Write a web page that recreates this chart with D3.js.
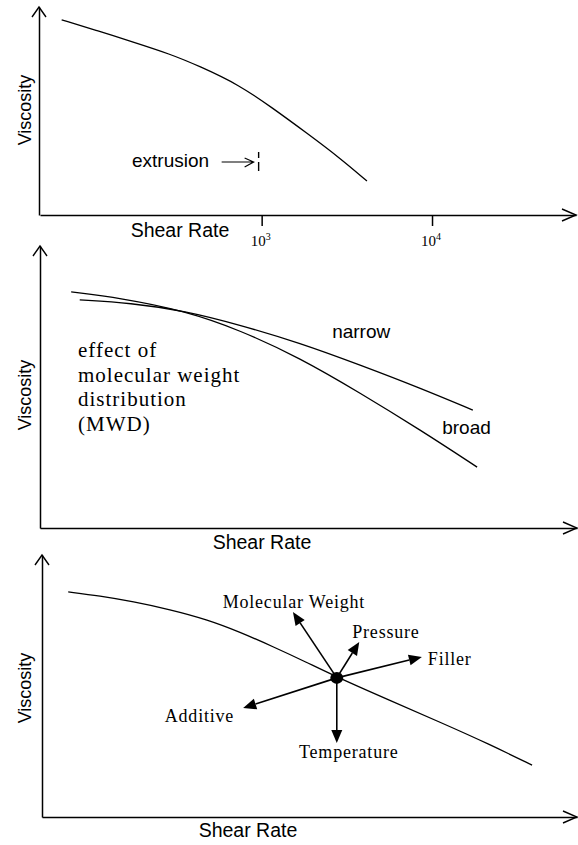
<!DOCTYPE html>
<html>
<head>
<meta charset="utf-8">
<script src="https://cdn.jsdelivr.net/npm/d3@7"></script>
<style>
  body { margin: 0; background: #fff; }
  svg { display: block; }
</style>
</head>
<body>
<svg id="chart"></svg>
<script>
const width = 578;
const height = 845;
const sans = '"Liberation Sans", Arial, sans-serif';
const serif = '"Liberation Serif", "Times New Roman", serif';

// panel 1: viscosity vs shear rate (log shear axis)
const shearRate1 = [67, 110, 175, 290, 430, 740, 1160, 1840, 2880, 4150];
const viscosity1 = [9.38, 8.85, 8.32, 7.74, 7.16, 6.25, 5.14, 3.94, 2.74, 1.63];
const tickRates1 = [1e3, 1e4];
const tickExponents1 = ["3", "4"];
const extrusionRate = 960;

// panel 2: effect of MWD
const shearNarrow = [0.74, 1.68, 2.70, 3.72, 4.84, 5.96, 7.08, 8.06];
const viscNarrow = [8.09, 7.98, 7.70, 7.20, 6.56, 5.78, 4.96, 4.18];
const shearBroad = [0.58, 1.49, 2.70, 3.72, 4.84, 5.96, 7.08, 8.14];
const viscBroad = [8.37, 8.16, 7.70, 7.02, 6.03, 4.79, 3.48, 2.16];
const mwdText = ["effect of", "molecular weight", "distribution", "(MWD)"];

// panel 3: factors acting on viscosity
const shear3 = [0.49, 1.08, 1.70, 2.39, 3.08, 3.70, 4.32, 4.92, 5.51, 6.50, 7.44, 8.37, 9.16];
const visc3 = [8.59, 8.44, 8.22, 7.92, 7.54, 7.06, 6.50, 5.93, 5.34, 4.45, 3.62, 2.77, 1.98];
const pointShear = 5.51;
const pointVisc = 5.31;
const factorNames = ["Molecular Weight", "Pressure", "Filler", "Additive", "Temperature"];
const factorShear = [4.69, 5.93, 7.10, 3.76, 5.51];
const factorVisc = [7.82, 6.68, 6.11, 4.16, 2.82];

const svg = d3.select("#chart")
    .attr("width", width)
    .attr("height", height)
    .attr("viewBox", [0, 0, width, height]);

svg.append("rect").attr("width", width).attr("height", height).attr("fill", "#fff");

// 画坐标轴（带开口箭头）
function drawAxes(x, y, left, right, bottom, top) {
    svg.append("g")
        .attr("transform", `translate(0,${bottom})`)
        .call(d3.axisBottom(x).tickValues([]).tickSizeOuter(0))
        .call(g => g.select(".domain").attr("stroke", "#000").attr("stroke-width", 1.5));
    svg.append("g")
        .attr("transform", `translate(${left},0)`)
        .call(d3.axisLeft(y).tickValues([]).tickSizeOuter(0))
        .call(g => g.select(".domain").attr("stroke", "#000").attr("stroke-width", 1.5));

    svg.append("path")   // x 箭头
        .attr("d", `M${right - 14},${bottom - 6}L${right},${bottom}L${right - 14},${bottom + 6}`)
        .attr("fill", "none").attr("stroke", "#000").attr("stroke-width", 1.4);
    svg.append("path")   // y 箭头
        .attr("d", `M${left - 7},${top + 10}L${left},${top}L${left + 7},${top + 10}`)
        .attr("fill", "none").attr("stroke", "#000").attr("stroke-width", 1.4);
}

function axisLabels(xCenter, xBaseline, yCenter) {
    svg.append("text")
        .attr("x", xCenter).attr("y", xBaseline)
        .attr("text-anchor", "middle")
        .attr("font-family", sans).attr("font-size", 19.5)
        .text("Shear Rate");
    svg.append("text")
        .attr("transform", `translate(31,${yCenter}) rotate(-90)`)
        .attr("text-anchor", "middle")
        .attr("font-family", sans).attr("font-size", 18)
        .text("Viscosity");
}

function drawCurve(xs, ys, x, y) {
    svg.append("path")
        .datum(xs.map((d, i) => [x(d), y(ys[i])]))
        .attr("fill", "none")
        .attr("stroke", "#000")
        .attr("stroke-width", 1.3)
        .attr("d", d3.line().curve(d3.curveBasis));
}

// ---------- panel 1 ----------
{
    const left = 39, right = 576, bottom = 215, top = 7;
    const x = d3.scaleLog().domain([50, 70000]).range([40, right]);
    const y = d3.scaleLinear().domain([0, 10]).range([bottom, top]);
    drawAxes(x, y, left, right, bottom, top);

    // 刻度 10^3, 10^4
    svg.append("g")
        .attr("transform", `translate(0,${bottom})`)
        .call(d3.axisBottom(x).tickValues(tickRates1).tickSize(11).tickFormat(""))
        .call(g => g.select(".domain").remove())
        .call(g => g.selectAll(".tick line").attr("stroke", "#000").attr("stroke-width", 1.5));
    const lbl = svg.selectAll(".tick-lbl")
        .data(tickRates1)
        .join("text")
        .attr("class", "tick-lbl")
        .attr("x", d => x(d) - 1)
        .attr("y", bottom + 31)
        .attr("text-anchor", "middle")
        .attr("font-family", serif)
        .attr("font-size", 15);
    lbl.append("tspan").text("10");
    lbl.append("tspan")
        .attr("dy", -6)
        .attr("font-size", 10)
        .text((d, i) => tickExponents1[i]);

    drawCurve(shearRate1, viscosity1, x, y);
    axisLabels(180, 237, 110);

    // extrusion 标注
    svg.append("text")
        .attr("x", 132).attr("y", 167)
        .attr("font-family", sans).attr("font-size", 19)
        .text("extrusion");
    const ex = x(extrusionRate);
    svg.append("path")
        .attr("d", `M${ex - 37},162H${ex - 5}M${ex - 14},158L${ex - 5},162L${ex - 14},167`)
        .attr("fill", "none").attr("stroke", "#000").attr("stroke-width", 1.2);
    svg.append("line")
        .attr("x1", ex).attr("x2", ex)
        .attr("y1", 152).attr("y2", 171)
        .attr("stroke", "#000").attr("stroke-width", 1.4)
        .attr("stroke-dasharray", "6,4,9");
}

// ---------- panel 2 ----------
{
    const left = 40, right = 577, bottom = 528, top = 246;
    const x = d3.scaleLinear().domain([0, 10]).range([left, right]);
    const y = d3.scaleLinear().domain([0, 10]).range([bottom, top]);
    drawAxes(x, y, left, right, bottom, top);
    drawCurve(shearNarrow, viscNarrow, x, y);
    drawCurve(shearBroad, viscBroad, x, y);
    axisLabels(262, 549, 395);

    svg.append("text")
        .attr("x", x(5.44)).attr("y", y(6.74))
        .attr("font-family", sans).attr("font-size", 19)
        .text("narrow");
    svg.append("text")
        .attr("x", x(7.49)).attr("y", y(3.32))
        .attr("font-family", sans).attr("font-size", 19)
        .text("broad");

    svg.append("g")
        .selectAll("text")
        .data(mwdText)
        .join("text")
        .attr("x", 78)
        .attr("y", (d, i) => 357 + i * 24.5)
        .attr("font-family", serif)
        .attr("font-size", 21)
        .attr("letter-spacing", 1)
        .text(d => d);
}

// ---------- panel 3 ----------
{
    const left = 42, right = 577, bottom = 817, top = 555;
    const x = d3.scaleLinear().domain([0, 10]).range([left, right]);
    const y = d3.scaleLinear().domain([0, 10]).range([bottom, top]);
    drawAxes(x, y, left, right, bottom, top);
    drawCurve(shear3, visc3, x, y);
    axisLabels(248, 837, 688);

    const px = x(pointShear), py = y(pointVisc);
    const labelPos = [   // 标签相对箭头尖端的偏移
        { dx: 1, dy: -4, anchor: "middle" },
        { dx: -7, dy: -4, anchor: "start" },
        { dx: 6, dy: 8, anchor: "start" },
        { dx: -9, dy: 14, anchor: "end" },
        { dx: 12, dy: 15, anchor: "middle" }
    ];

    factorNames.forEach((name, i) => {
        const tx = x(factorShear[i]), ty = y(factorVisc[i]);
        const dx = tx - px, dy = ty - py;
        const len = Math.hypot(dx, dy);
        const ux = dx / len, uy = dy / len;
        const hl = 13, hw = 5.5;
        const bx = tx - ux * hl, by = ty - uy * hl;
        svg.append("line")
            .attr("x1", px).attr("y1", py)
            .attr("x2", bx).attr("y2", by)
            .attr("stroke", "#000").attr("stroke-width", 1.6);
        svg.append("path")
            .attr("d", `M${tx},${ty}L${bx - uy * hw},${by + ux * hw}L${bx + uy * hw},${by - ux * hw}Z`)
            .attr("fill", "#000");
        svg.append("text")
            .attr("x", tx + labelPos[i].dx)
            .attr("y", ty + labelPos[i].dy)
            .attr("text-anchor", labelPos[i].anchor)
            .attr("font-family", serif)
            .attr("font-size", 18)
            .attr("letter-spacing", 0.8)
            .text(name);
    });

    svg.append("ellipse")
        .attr("cx", px).attr("cy", py)
        .attr("rx", 6.5).attr("ry", 6)
        .attr("fill", "#000");
}
</script>
</body>
</html>
